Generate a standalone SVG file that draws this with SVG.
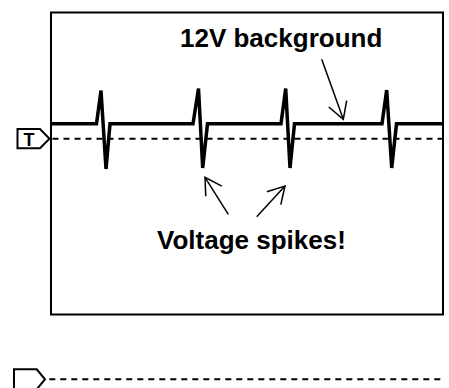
<svg xmlns="http://www.w3.org/2000/svg" width="449" height="388" viewBox="0 0 449 388">
  <style>
    .frame { fill: #fff; stroke: #000; stroke-width: 2; }
    .dash { fill: none; stroke: #000; stroke-width: 2; stroke-dasharray: 6 5; }
    .wave { fill: none; stroke: #000; stroke-width: 3.5; stroke-linejoin: miter; stroke-miterlimit: 2; }
    .tag { fill: #fff; stroke: #000; stroke-width: 2; stroke-linejoin: miter; }
    .label { font-family: "Liberation Sans", Arial, sans-serif; font-weight: bold; font-size: 26px; fill: #000; }
    .tagtext { font-family: "Liberation Sans", Arial, sans-serif; font-weight: bold; font-size: 18px; fill: #000; text-anchor: middle; }
    .arrow { fill: none; stroke: #000; stroke-width: 1.5; }
  </style>
  <defs>
    <marker id="open" viewBox="-20 -12 22 24" refX="0" refY="0" markerWidth="22" markerHeight="24" markerUnits="userSpaceOnUse" orient="auto" overflow="visible">
      <path d="M-16.5,-9.5 L0,0 L-16.5,9.5" fill="none" stroke="#000" stroke-width="1.5"/>
    </marker>
  </defs>
  <rect width="449" height="388" fill="#fff"/>
  <g id="scope">
    <rect class="frame" x="51" y="12.5" width="392" height="302"/>
  </g>
  <g id="trace-dashed">
    <line class="dash" x1="52.5" y1="138.7" x2="443" y2="138.7"/>
  </g>
  <g id="trace-12v">
    <polyline class="wave" points="51,123.8 96.5,123.8 101,90.5 106,169 110,123.8 193,123.8 198.5,88.5 202.7,168 207.5,123.8 281,123.8 285.7,88.5 290,168 294.5,123.8 382,123.8 386.7,90 391.7,168 396.5,123.8 443,123.8"/>
  </g>
  <g id="marker-T">
    <polygon class="tag" points="17.5,129 40,129 49.5,138.7 40,148.3 17.5,148.3"/>
    <text class="tagtext" x="29" y="145.5">T</text>
  </g>
  <g id="marker-bottom">
    <polygon class="tag" points="14,369.3 36.7,369.3 45,379.3 36.7,389.3 14,389.3"/>
    <line class="dash" x1="49.3" y1="379.3" x2="443" y2="379.3"/>
  </g>
  <g id="label-12v">
    <text class="label" x="180" y="47">12V background</text>
  </g>
  <g id="label-spikes">
    <text class="label" x="157" y="249">Voltage spikes!</text>
  </g>
  <g id="connectors">
    <line class="arrow" x1="321.7" y1="59.3" x2="343.3" y2="119.3" marker-end="url(#open)"/>
    <line class="arrow" x1="228.3" y1="214.3" x2="205" y2="177.3" marker-end="url(#open)"/>
    <line class="arrow" x1="256.7" y1="216.7" x2="285" y2="186" marker-end="url(#open)"/>
  </g>
</svg>
